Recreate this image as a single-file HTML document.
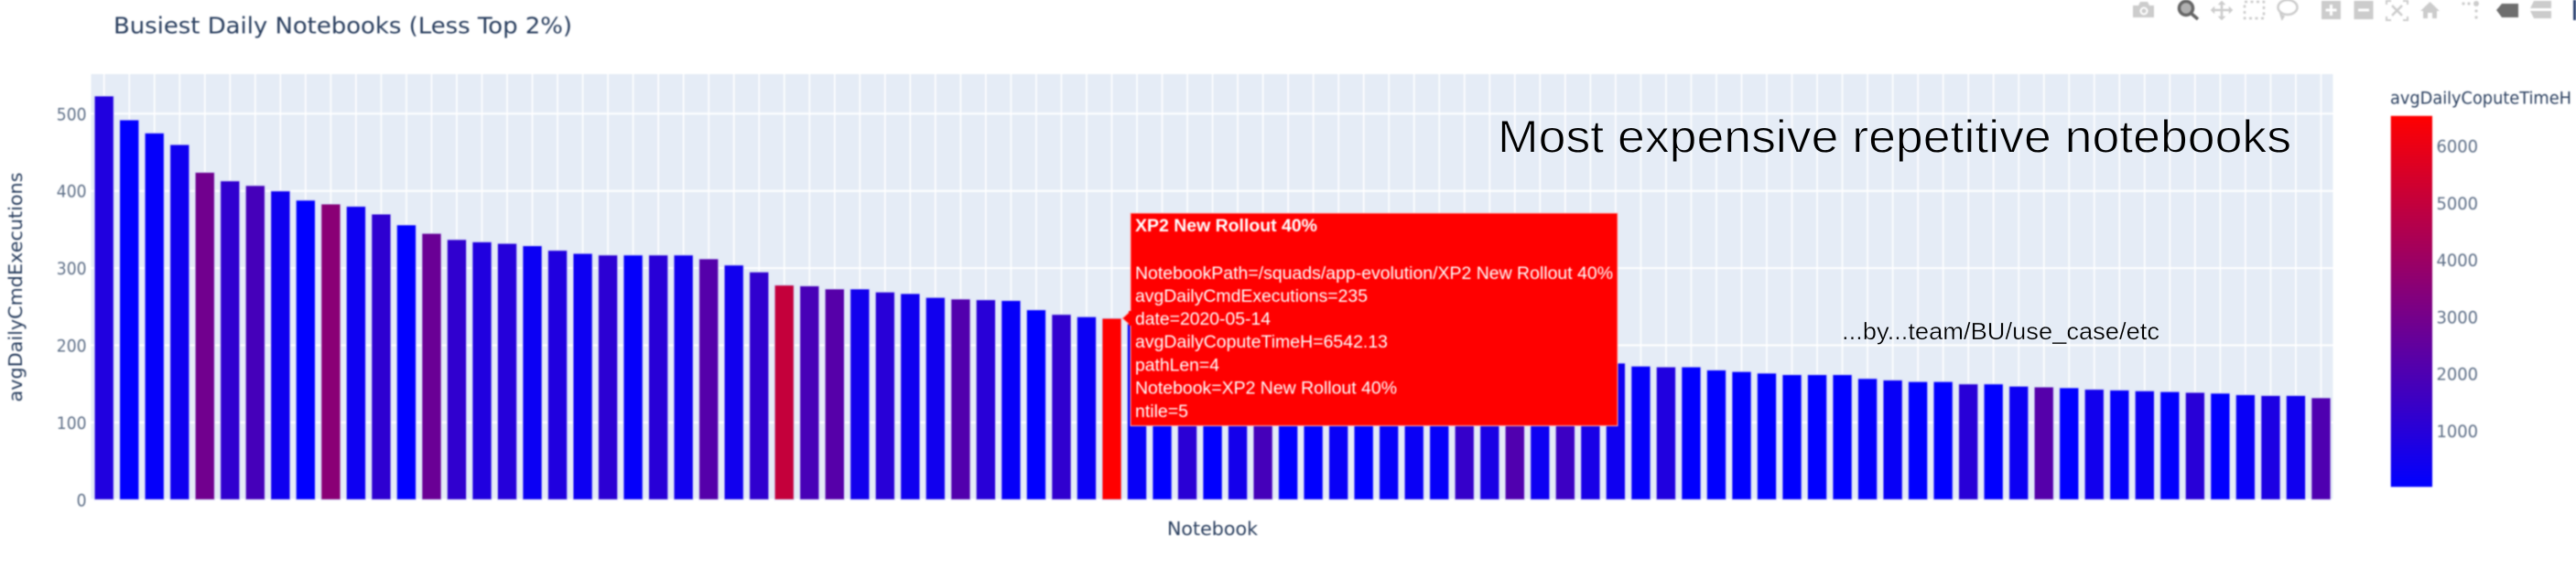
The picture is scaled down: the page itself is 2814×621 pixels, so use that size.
<!DOCTYPE html>
<html lang="en">
<head>
<meta charset="utf-8">
<title>Busiest Daily Notebooks (Less Top 2%)</title>
<style>
html,body{margin:0;padding:0;background:#fff;width:2814px;height:621px;overflow:hidden}
svg{display:block}
.plotly{font-family:"DejaVu Sans","Liberation Sans",sans-serif}
.tip{font-family:"Liberation Sans",Arial,sans-serif;font-size:19.5px;fill:#fff}
.note{font-family:"Liberation Sans",Arial,sans-serif;fill:#000}
</style>
</head>
<body>
<svg id="chart" xmlns="http://www.w3.org/2000/svg" width="2814" height="621" viewBox="0 0 2814 621">
  <defs>
    <linearGradient id="cbGrad" x1="0" y1="1" x2="0" y2="0">
      <stop offset="0" stop-color="#0000ff"/>
      <stop offset="1" stop-color="#ff0000"/>
    </linearGradient>
  </defs>
  <g id="soft" style="filter:blur(0.8px)">
    <rect id="plotBg" x="99.5" y="81" width="2449" height="465.3" fill="#e5ecf6"/>
    <g id="grid"></g>
    <g id="bars"></g>
    <g id="yTicksG"></g>
    <text class="plotly" x="124" y="36.5" font-size="25" fill="#2a3f5f" textLength="501" lengthAdjust="spacingAndGlyphs">Busiest Daily Notebooks (Less Top 2%)</text>
    <text class="plotly" transform="translate(24,314) rotate(-90)" text-anchor="middle" font-size="20" fill="#2a3f5f" textLength="251" lengthAdjust="spacingAndGlyphs">avgDailyCmdExecutions</text>
    <text class="plotly" x="1275" y="585" font-size="20" fill="#2a3f5f" textLength="99" lengthAdjust="spacingAndGlyphs">Notebook</text>
    <text class="plotly" x="2611" y="113.5" font-size="19" fill="#2a3f5f" textLength="198" lengthAdjust="spacingAndGlyphs">avgDailyCoputeTimeH</text>
    <rect x="2611.7" y="126.7" width="45.3" height="405.6" fill="url(#cbGrad)"/>
    <g id="cbTicksG"></g>

    <g>
      <g fill="#cccccc">
        <path d="M2330 6h6l2-4h8l2 4h5v13h-23z"/>
        <circle cx="2342" cy="12" r="4.5" fill="#fff"/>
        <circle cx="2342" cy="12" r="2.5" fill="#ccc"/>
      </g>
      <g>
        <circle cx="2388" cy="9" r="7.5" fill="#b0b0b0" stroke="#666" stroke-width="3.5"/>
        <line x1="2394" y1="15" x2="2401" y2="21" stroke="#666" stroke-width="3.5"/>
      </g>
      <g fill="#cccccc" stroke="#cccccc" stroke-width="2.5">
        <line x1="2427" y1="3" x2="2427" y2="20"/>
        <line x1="2417" y1="11" x2="2437" y2="11"/>
        <path d="M2423 5l4-4 4 4zM2423 18l4 4 4-4zM2419 7l-4 4 4 4zM2435 7l4 4-4 4z" stroke-width="0.5"/>
      </g>
      <rect x="2452" y="2" width="21" height="18" fill="none" stroke="#cccccc" stroke-width="2.5" stroke-dasharray="3 3.5"/>
      <g fill="none" stroke="#cccccc" stroke-width="2.5">
        <ellipse cx="2499" cy="8" rx="10.5" ry="8"/>
        <path d="M2491 14l2 6 2-3"/>
      </g>
      <g>
        <rect x="2536" y="1" width="21" height="20" fill="#cccccc"/>
        <path d="M2546.5 5v12M2540.5 11h12" stroke="#fff" stroke-width="3"/>
      </g>
      <g>
        <rect x="2571.5" y="1" width="21" height="20" fill="#cccccc"/>
        <path d="M2576 11h12" stroke="#fff" stroke-width="3"/>
      </g>
      <g fill="none" stroke="#cccccc" stroke-width="2">
        <path d="M2607 5V1h5M2625 1h5v4M2630 18v4h-5M2612 22h-5v-4"/>
        <path d="M2613 6l11 11M2624 6l-11 11" stroke-width="2.5"/>
      </g>
      <path d="M2654.5 2l10.5 10h-3v8h-5v-6h-5v6h-5v-8h-3z" fill="#cccccc"/>
      <g fill="#cccccc">
        <circle cx="2691" cy="4" r="1.6"/><circle cx="2697" cy="4" r="1.6"/><circle cx="2705" cy="4" r="3"/>
        <circle cx="2705" cy="12" r="1.6"/><circle cx="2705" cy="19" r="1.6"/>
      </g>
      <path d="M2727 11l6-7h18v15h-18z" fill="#6e6e6e"/>
      <g fill="#cccccc">
        <path d="M2768 1h19v8h-23z"/>
        <path d="M2764 12h23v8h-19z"/>
      </g>
      <rect x="2811" y="0" width="3" height="22" fill="#2a4070"/>
    </g>

    <g>
      <path id="tipArrow" fill="#ff0000" stroke="#ffb0b0" stroke-width="1"/>
      <rect x="1235" y="233" width="532" height="232.5" fill="#ff0000" stroke="#ffb0b0" stroke-width="1"/>
      <rect x="1233" y="340" width="4" height="16" fill="#ff0000"/>
      <text class="tip" x="1240" y="253" font-weight="bold" textLength="199" lengthAdjust="spacingAndGlyphs">XP2 New Rollout 40%</text>
      <text class="tip" x="1240" y="305" textLength="522" lengthAdjust="spacingAndGlyphs">NotebookPath=/squads/app-evolution/XP2 New Rollout 40%</text>
      <text class="tip" x="1240" y="330" textLength="254" lengthAdjust="spacingAndGlyphs">avgDailyCmdExecutions=235</text>
      <text class="tip" x="1240" y="355" textLength="148" lengthAdjust="spacingAndGlyphs">date=2020-05-14</text>
      <text class="tip" x="1240" y="380" textLength="276" lengthAdjust="spacingAndGlyphs">avgDailyCoputeTimeH=6542.13</text>
      <text class="tip" x="1240" y="405.5" textLength="92" lengthAdjust="spacingAndGlyphs">pathLen=4</text>
      <text class="tip" x="1240" y="430.5" textLength="286" lengthAdjust="spacingAndGlyphs">Notebook=XP2 New Rollout 40%</text>
      <text class="tip" x="1240" y="456" textLength="58" lengthAdjust="spacingAndGlyphs">ntile=5</text>
    </g>
  </g>
  <text class="note" x="1636" y="166.5" font-size="50" stroke="#e5ecf6" stroke-width="0.9" textLength="867" lengthAdjust="spacingAndGlyphs">Most expensive repetitive notebooks</text>
  <text class="note" x="2012" y="371" font-size="26" stroke="#e5ecf6" stroke-width="0.35" textLength="347" lengthAdjust="spacingAndGlyphs">...by...team/BU/use_case/etc</text>
</svg>
<script>
const avgDailyCmdExecutions = [
  523,492,475,460,424,413,407,400,388,383,
  380,370,356,345,337,334,332,329,323,319,
  317,317,317,317,312,304,295,278,277,273,
  273,269,267,262,260,259,258,246,240,237,
  235,232,230,228,225,223,220,216,213,210,
  206,203,200,197,194,191,188,185,182,179,
  177,173,172,172,168,166,164,162,162,162,
  157,155,153,153,150,150,147,146,145,143,
  142,141,140,139,138,136,135,135,132
];
const avgDailyComputeTimeH = [
  840,40,150,400,2900,1250,1770,400,40,3550,
  350,1200,40,2730,1250,840,970,300,840,350,
  1150,150,1050,450,2200,450,1250,5030,1860,2220,
  480,1050,400,450,2120,1050,180,40,1250,300,
  6542,220,40,1090,40,530,1780,40,40,220,
  40,180,270,180,1380,680,2060,350,1560,630,
  400,150,840,40,40,40,40,40,40,40,
  120,220,40,40,1050,40,330,2200,40,480,
  150,350,70,1050,40,250,740,420,2040
];
const yTickValues = [0,100,200,300,400,500];
const colorbarTickValues = [1000,2000,3000,4000,5000,6000];
const hoveredBarIndex = 40;

const NS = 'http://www.w3.org/2000/svg';
function xScale(i){ return 113.7 + i * 27.52; }
function yScale(v){ return 546.3 - v * 0.844; }
function cbScale(v){ return 532.3 - (v - 16) * 0.0623; }
function colorFor(v){
  const t = Math.max(0, Math.min(1, (v - 16) / 6526));
  return 'rgb(' + Math.round(255 * t) + ',0,' + Math.round(255 * (1 - t)) + ')';
}
function make(tag, attrs, parent){
  const el = document.createElementNS(NS, tag);
  for (const k in attrs) el.setAttribute(k, attrs[k]);
  parent.appendChild(el);
  return el;
}
const grid = document.getElementById('grid');
const barsG = document.getElementById('bars');
const yG = document.getElementById('yTicksG');
const cbG = document.getElementById('cbTicksG');

avgDailyCmdExecutions.forEach(function(v, i){
  const gx = make('line', {x1:xScale(i), x2:xScale(i), y1:81, y2:546.3, stroke:'#ffffff', 'stroke-width':1.6}, grid);
  
  
});
yTickValues.forEach(function(v){
  const gy = make('line', {x1:99.5, x2:2548.5, y1:yScale(v), y2:yScale(v), stroke:'#ffffff', 'stroke-width':2}, grid);
  
  
  const label = String(v);
  const t = make('text', {x:94.5, y:yScale(v) + 7, 'text-anchor':'end', 'font-size':19, fill:'#5f7088', class:'plotly', textLength:label.length * 10.9, lengthAdjust:'spacingAndGlyphs'}, yG);
  t.textContent = label;
  
  
});
avgDailyCmdExecutions.forEach(function(v, i){
  const y = yScale(v);
  const r = make('rect', {x:xScale(i) - 10.6, y:y, width:21.2, height:yScale(0) - y, fill:colorFor(avgDailyComputeTimeH[i]), stroke:'#d4d8f8', 'stroke-width':1}, barsG);
  
  
});
colorbarTickValues.forEach(function(v){
  const t = make('text', {x:2661.5, y:cbScale(v) + 7, 'font-size':19, fill:'#5f7088', class:'plotly', textLength:45.5, lengthAdjust:'spacingAndGlyphs'}, cbG);
  t.textContent = String(v);
  
  
});
const tipY = yScale(avgDailyCmdExecutions[hoveredBarIndex]);
document.getElementById('tipArrow').setAttribute('d', 'M1235 ' + (tipY - 8) + 'L1226 ' + tipY + 'L1235 ' + (tipY + 8) + 'Z');
</script>
</body>
</html>
